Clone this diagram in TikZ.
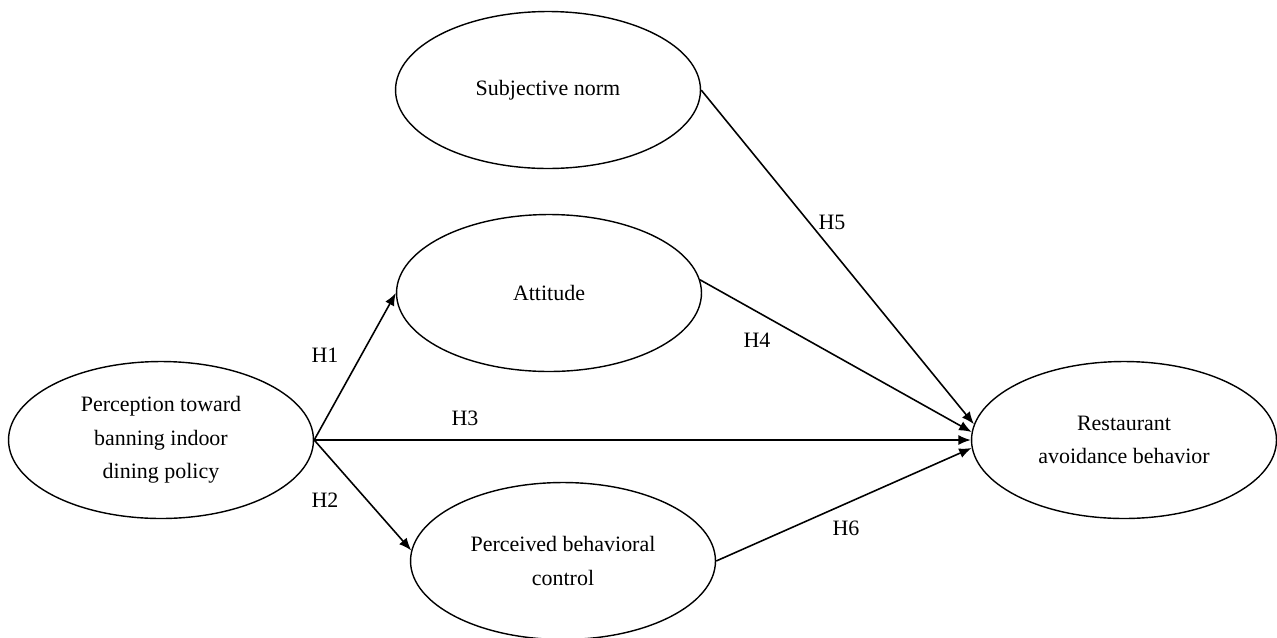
\documentclass[tikz,border=0pt]{standalone}
\usepackage{fontspec}
\setmainfont{Liberation Serif}
\usepackage{tikz}
\usetikzlibrary{shapes.geometric,arrows.meta}

\begin{document}
\begin{tikzpicture}[x=0.02cm, y=-0.02cm,
		construct/.style={ellipse, draw, line width=0.8pt, minimum width=6.1cm, minimum height=3.14cm, inner sep=0pt, align=center, font=\fontsize{12.5pt}{19pt}\selectfont},
		hyp/.style={font=\fontsize{12.5pt}{15pt}\selectfont, inner sep=1pt},
		link/.style={line width=0.9pt, -{Latex[length=2.5mm, width=2mm]}}]
		\useasboundingbox (0,0) rectangle (1277,637);
		\node[construct] (perc) at (161,440) {Perception toward\\banning indoor\\dining policy};
		\node[construct] (sn) at (548,90) {Subjective norm};
		\node[construct] (att) at (549,293) {Attitude};
		\node[construct] (pbc) at (563,561) {Perceived behavioral\\control};
		\node[construct] (rest) at (1124,440) {Restaurant\\avoidance behavior};
		
		\node[hyp] (h1) at (325,355) {H1};
		\node[hyp] (h2) at (325,500) {H2};
		\node[hyp] (h3) at (465,418) {H3};
		\node[hyp] (h4) at (757,340) {H4};
		\node[hyp] (h5) at (832,222) {H5};
		\node[hyp] (h6) at (846,528) {H6};
		
		\draw[link] (perc.east) -- (att.west);
		\draw[link] (perc.east) -- (pbc.176);
		\draw[link] (perc.east) -- (rest.west);
		\draw[link] (att.5) -- (rest.177);
		\draw[link] (sn.east) -- (rest.174);
		\draw[link] (pbc.east) -- (rest.183);
		\end{tikzpicture}
\end{document}
